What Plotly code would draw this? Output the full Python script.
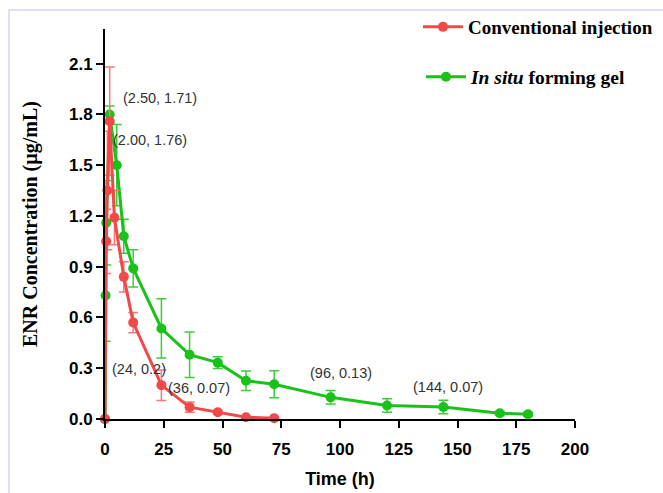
import plotly.graph_objects as go

# ---- data ----
conv_time = [0, 0.5, 1, 2, 4, 8, 12, 24, 36, 48, 60, 72]
conv_conc = [0, 1.05, 1.35, 1.76, 1.19, 0.84, 0.57, 0.20, 0.07, 0.04, 0.01, 0.005]
conv_err = [0, 0.19, 0.35, 0.32, 0.16, 0.09, 0.06, 0.09, 0.03, 0.01, 0.005, 0.003]

gel_time = [0, 0.25, 0.5, 2, 5, 8, 12, 24, 36, 48, 60, 72, 96, 120, 144, 168, 180]
gel_conc = [0, 0.73, 1.16, 1.80, 1.50, 1.08, 0.89, 0.535, 0.38, 0.333, 0.226, 0.205, 0.128, 0.08, 0.071, 0.034, 0.028]
gel_err = [0, 0.27, 0.25, 0.05, 0.24, 0.10, 0.11, 0.175, 0.134, 0.035, 0.058, 0.08, 0.04, 0.04, 0.04, 0.01, 0.01]

x_ticks = [0, 25, 50, 75, 100, 125, 150, 175, 200]
y_ticks = [0.0, 0.3, 0.6, 0.9, 1.2, 1.5, 1.8, 2.1]

# labelled points: (text, series, index, xshift, yshift)
labels = [
    ("(2.50, 1.71)", "gel", 3, 50, 16),
    ("(2.00, 1.76)", "conv", 3, 40, -19),
    ("(24, 0.2)", "conv", 7, -22, 16),
    ("(36, 0.07)", "conv", 8, 9, 19),
    ("(96, 0.13)", "gel", 12, 10, 24),
    ("(144, 0.07)", "gel", 14, 5, 20),
]

RED = "#F24848"
GREEN = "#19C219"
W, H = 663, 493
ML, MR, MT, MB = 105, 88, 29, 74

fig = go.Figure()
fig.add_trace(go.Scatter(
    x=gel_time, y=gel_conc, mode="lines+markers",
    name="<i>In situ</i> forming gel",
    line=dict(color=GREEN, width=3), marker=dict(color=GREEN, size=10),
    error_y=dict(type="data", array=gel_err, color="#3ACF3A", thickness=1.5, width=5),
    legend="legend2", cliponaxis=False,
))
fig.add_trace(go.Scatter(
    x=conv_time, y=conv_conc, mode="lines+markers",
    name="Conventional injection",
    line=dict(color=RED, width=3), marker=dict(color=RED, size=10),
    error_y=dict(type="data", array=conv_err, color="#F77A7A", thickness=1.5, width=5),
    legend="legend", cliponaxis=False,
))

series = {"conv": (conv_time, conv_conc), "gel": (gel_time, gel_conc)}
for text, s, i, dx, dy in labels:
    xs, ys = series[s]
    fig.add_annotation(x=xs[i], y=ys[i], text=text, showarrow=False,
                       xshift=dx, yshift=dy,
                       font=dict(family="Liberation Sans, Arial", size=14.5, color="#333333"))

pw = W - ML - MR
ph = H - MT - MB
def px(x):
    return (x - ML) / pw
def py(y):
    return (H - MB - y) / ph

# thin frame of the page
fig.add_shape(type="line", xref="paper", yref="paper", x0=px(9), x1=px(663), y0=py(10), y1=py(10),
              line=dict(color="#D4D4EC", width=1.5))
fig.add_shape(type="line", xref="paper", yref="paper", x0=px(9), x1=px(9), y0=py(10), y1=py(493),
              line=dict(color="#D4D4EC", width=1.5))

tickfont = dict(family="Liberation Sans, Arial", size=17, color="#000000", weight="bold")
serif = "Liberation Serif, Times New Roman, serif"

fig.update_layout(
    width=W, height=H,
    margin=dict(l=ML, r=MR, t=MT, b=MB, autoexpand=False),
    paper_bgcolor="white", plot_bgcolor="white",
    xaxis=dict(range=[0, 200], tickvals=x_ticks, ticks="outside", ticklen=7, tickwidth=2,
               tickcolor="black", showline=True, linecolor="black", linewidth=2,
               showgrid=False, zeroline=False, tickfont=tickfont, automargin=False,
               ticklabelstandoff=7,
               title=dict(text="Time (h)", font=dict(family="Liberation Sans, Arial", size=18, color="#000000", weight="bold"), standoff=14)),
    yaxis=dict(range=[0, 2.305], tickvals=y_ticks, tickformat=".1f", ticks="outside", ticklen=7, tickwidth=2,
               tickcolor="black", showline=True, linecolor="black", linewidth=2,
               showgrid=False, zeroline=False, tickfont=tickfont, automargin=False,
               title=dict(text="ENR Concentration (µg/mL)", font=dict(family=serif, size=20, color="#000000", weight="bold"), standoff=26)),
    legend=dict(x=px(418), y=py(27), xanchor="left", yanchor="middle", bgcolor="rgba(0,0,0,0)",
                itemwidth=40,
                font=dict(family=serif, size=19, color="#000000", weight="bold")),
    legend2=dict(x=px(421), y=py(77), xanchor="left", yanchor="middle", bgcolor="rgba(0,0,0,0)",
                 itemwidth=40,
                 font=dict(family=serif, size=19.5, color="#000000", weight="bold")),
    showlegend=True,
)

fig.write_html("out.html", config={"displayModeBar": False},
               post_script="document.body.style.margin='0';document.body.style.overflow='hidden';")
